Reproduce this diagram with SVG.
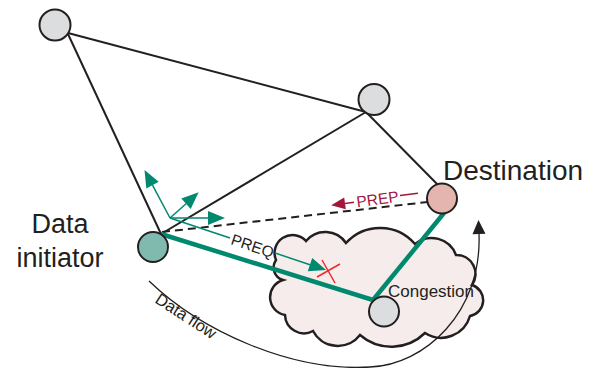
<svg xmlns="http://www.w3.org/2000/svg" width="597" height="368" viewBox="0 0 597 368">
<defs>
<style>
.edge{stroke:#231f20;stroke-width:2;fill:none}
.dash{stroke:#231f20;stroke-width:2;fill:none;stroke-dasharray:8 5}
.teal{stroke:#00896f;stroke-width:4.5;fill:none}
.thin{stroke:#00896f;stroke-width:1.5;fill:none}
.prep{stroke:#a3173d;stroke-width:1.5;fill:none}
.cross{stroke:#ee2b2b;stroke-width:1.5;fill:none}
.flow{stroke:#231f20;stroke-width:1.3;fill:none}
.node{stroke:#231f20;stroke-width:2}
.grey{fill:#dcdddf}
.t{font-family:"Liberation Sans",Arial,Helvetica,sans-serif;fill:#231f20}
</style>
<marker id="ahT" markerUnits="userSpaceOnUse" markerWidth="20" markerHeight="16" viewBox="0 -8 18 16" refX="0" refY="0" orient="auto"><path d="M0,-7 L17,0 L0,7 z" fill="#00896f"/></marker>
<marker id="ahR" markerUnits="userSpaceOnUse" markerWidth="16" markerHeight="14" viewBox="0 -7 15 14" refX="0" refY="0" orient="auto"><path d="M0,-6 L14,0 L0,6 z" fill="#a3173d"/></marker>
<marker id="ahK" markerUnits="userSpaceOnUse" markerWidth="16" markerHeight="16" viewBox="0 -8 15 16" refX="0" refY="0" orient="auto"><path d="M0,-6.5 L14,0 L0,6.5 z" fill="#231f20"/></marker>
</defs>
<rect width="597" height="368" fill="#ffffff"/>

<g id="cloud">
<path d="M276,260 A18,18 0 0 1 306,241 A25,25 0 0 1 346,243 A46,46 0 0 1 415,244 A26,26 0 0 1 456,255 A19,19 0 0 1 472,285 A16,16 0 0 1 470,316 A30,30 0 0 1 425,333 A48,48 0 0 1 360,335 A28,28 0 0 1 313,331 A19,19 0 0 1 285,315 A18,18 0 0 1 283,280 A13,13 0 0 1 276,260 Z" fill="#f7ecec" stroke="#231f20" stroke-width="2.5"/>
</g>

<g id="connectors">
<line class="edge" x1="68" y1="33" x2="366" y2="112"/>
<line class="edge" x1="68" y1="34" x2="161" y2="234"/>
<line class="edge" x1="161" y1="234" x2="366" y2="112"/>
<line class="edge" x1="366" y1="112" x2="439" y2="186"/>
<line class="dash" x1="162" y1="232" x2="428" y2="202"/>
<line class="teal" x1="161" y1="234" x2="373" y2="300"/>
<line class="teal" x1="373" y1="300" x2="444" y2="213"/>
<path class="thin" d="M170,218 L152.5,185.1" marker-end="url(#ahT)"/>
<path class="thin" d="M170,218 L186,203.7" marker-end="url(#ahT)"/>
<path class="thin" d="M170,218 L208,218" marker-end="url(#ahT)"/>
<path class="thin" d="M170,218 L230,238"/>
<path class="thin" d="M275,253 L310,264.7" marker-end="url(#ahT)"/>
<path class="cross" d="M317,277 L340,264 M322,260 L335,283"/>
<path class="prep" d="M400,195.6 L418,193.2"/>
<path class="prep" d="M354,202.2 L345,203.4" marker-end="url(#ahR)"/>
<path class="flow" d="M149,281 C200,330 290,372 370,367 C425,365 482,312 479,234" marker-end="url(#ahK)"/>
</g>

<g id="node-top-left"><circle class="node grey" cx="55" cy="25" r="15.5"/></g>
<g id="node-top-right"><circle class="node grey" cx="374" cy="99.5" r="15.5"/></g>
<g id="node-destination"><circle class="node" cx="442" cy="198.5" r="15" fill="#e3b5ae"/>
<text class="t" x="443" y="180" font-size="28">Destination</text></g>
<g id="node-initiator"><circle class="node" cx="153" cy="247" r="15" fill="#80b9ae"/>
<text class="t" x="60" y="233" font-size="27" text-anchor="middle">Data</text>
<text class="t" x="60" y="266.5" font-size="27" text-anchor="middle">initiator</text></g>
<g id="node-congestion"><circle class="node grey" cx="384" cy="311.5" r="15"/>
<text class="t" x="388" y="297" font-size="17">Congestion</text></g>

<g id="labels">
<text class="t" font-size="15.5" text-anchor="middle" transform="translate(252.5,245.8) rotate(18.4)" x="0" y="5.5">PREQ</text>
<text font-family="Liberation Sans,Arial,sans-serif" fill="#a3173d" font-size="15.5" text-anchor="middle" transform="translate(377.5,199) rotate(-7.8)" x="0" y="5.5">PREP</text>
<text class="t" font-size="16.5" transform="translate(154,302) rotate(33)">Data flow</text>
</g>
</svg>
